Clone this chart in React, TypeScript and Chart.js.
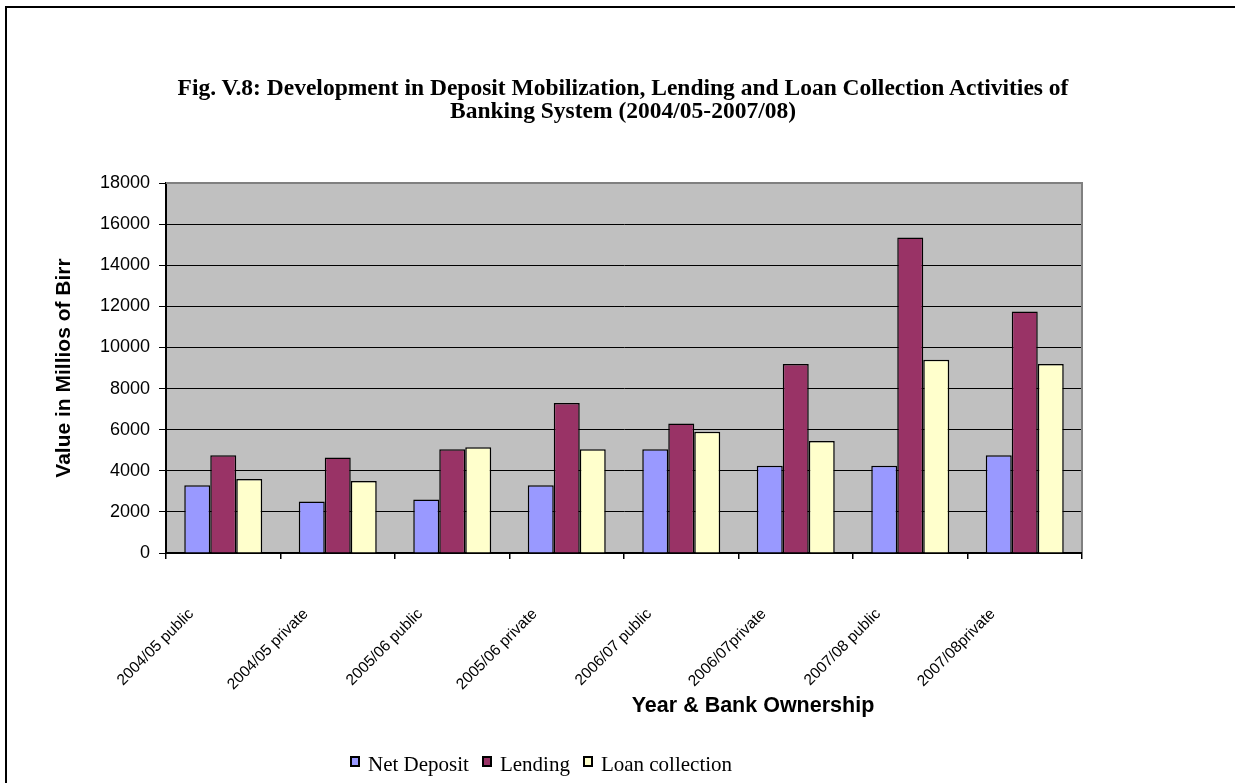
import { useEffect, useRef } from "react";
import { Chart, registerables } from "chart.js";

Chart.register(...registerables);

// Categories: fiscal year and bank ownership
const categories = [
  "2004/05 public",
  "2004/05 private",
  "2005/06 public",
  "2005/06 private",
  "2006/07 public",
  "2006/07private",
  "2007/08 public",
  "2007/08private",
];

// Values in millions of Birr
const netDeposit = [3300, 2500, 2600, 3300, 5050, 4250, 4250, 4750];
const lending = [4750, 4650, 5050, 7300, 6300, 9200, 15350, 11750];
const loanCollection = [3600, 3500, 5150, 5050, 5900, 5450, 9400, 9200];

const seriesNames = ["Net Deposit", "Lending", "Loan collection"];
const seriesColors = ["#9999FF", "#993366", "#FFFFCC"];

const yMin = 0;
const yMax = 18000;
const yStep = 2000;

const titleLines = [
  "Fig. V.8: Development in Deposit Mobilization, Lending and Loan Collection Activities of",
  "Banking System (2004/05-2007/08)",
];
const yTitle = "Value in Millios of Birr";
const xTitle = "Year & Bank Ownership";

// Grey plot background with a grey frame on the top and right edges
const plotFrame = {
  id: "plotFrame",
  beforeDraw(chart: any) {
    const { ctx, chartArea: a } = chart;
    ctx.save();
    ctx.fillStyle = "#C0C0C0";
    ctx.fillRect(a.left, a.top, a.right - a.left, a.bottom - a.top);
    ctx.restore();
  },
  beforeDatasetsDraw(chart: any) {
    const { ctx, chartArea: a } = chart;
    ctx.save();
    ctx.strokeStyle = "#808080";
    ctx.lineWidth = 2;
    ctx.beginPath();
    ctx.moveTo(a.left, a.top);
    ctx.lineTo(a.right, a.top);
    ctx.lineTo(a.right, a.bottom - 1);
    ctx.stroke();
    ctx.restore();
  },
};

export default function App() {
  const canvasRef = useRef<HTMLCanvasElement>(null);

  useEffect(() => {
    const canvas = canvasRef.current;
    if (!canvas) return;
    const values = [netDeposit, lending, loanCollection];
    const chart = new Chart(canvas, {
      type: "bar",
      data: {
        labels: categories,
        datasets: values.map((data, i) => ({
          label: seriesNames[i],
          data,
          backgroundColor: seriesColors[i],
          borderColor: "#000000",
          borderWidth: 1.5,
          categoryPercentage: 0.681,
          barPercentage: 1,
        })),
      },
      options: {
        responsive: false,
        animation: false,
        events: [],
        layout: { padding: { left: 0, top: 183, right: 153, bottom: 0 } },
        plugins: {
          legend: { display: false },
          title: { display: false },
          tooltip: { enabled: false },
        },
        scales: {
          x: {
            type: "category",
            afterFit: (s: any) => {
              s.height = 230;
            },
            grid: {
              offset: true,
              drawOnChartArea: false,
              drawTicks: true,
              tickLength: 6,
              color: "#000000",
              lineWidth: 1.5,
            },
            border: { display: true, color: "#000000", width: 2 },
            ticks: {
              autoSkip: false,
              maxRotation: 45,
              minRotation: 45,
              padding: 46,
              labelOffset: -32,
              color: "#000000",
              font: { family: "Liberation Sans", size: 15.5 },
            },
          },
          y: {
            min: yMin,
            max: yMax,
            afterFit: (s: any) => {
              s.width = 166;
            },
            grid: {
              color: (c: any) => (c.tick && c.tick.value === yMax ? "rgba(0,0,0,0)" : "#000000"),
              tickColor: "#000000",
              lineWidth: 1,
              tickLength: 7,
            },
            border: { display: true, color: "#000000", width: 2 },
            ticks: {
              stepSize: yStep,
              padding: 9,
              color: "#000000",
              font: { family: "Liberation Sans", size: 18 },
              callback: (v: any) => String(v),
            },
            title: {
              display: true,
              text: yTitle,
              color: "#000000",
              font: { family: "Liberation Sans", size: 21, weight: "bold" },
              padding: { top: 52, bottom: 0 },
            },
          },
        },
      },
      plugins: [plotFrame],
    } as any);
    return () => chart.destroy();
  }, []);

  return (
    <div
      style={{
        position: "absolute",
        left: 0,
        top: 0,
        width: 1235,
        height: 783,
        background: "#ffffff",
        overflow: "hidden",
      }}
    >
      <div
        style={{
          position: "absolute",
          left: 5,
          top: 6,
          right: -10,
          bottom: -10,
          borderLeft: "2px solid #000",
          borderTop: "2px solid #000",
        }}
      />
      <canvas
        ref={canvasRef}
        width={1235}
        height={783}
        style={{ position: "absolute", left: 0, top: 0 }}
      />
      <div
        style={{
          position: "absolute",
          left: 0,
          top: 76,
          width: 1246,
          textAlign: "center",
          fontFamily: "Liberation Serif",
          fontWeight: "bold",
          fontSize: 23.5,
          lineHeight: "23px",
          color: "#000",
          whiteSpace: "nowrap",
        }}
      >
        {titleLines.map((t) => (
          <div key={t}>{t}</div>
        ))}
      </div>
      <div
        style={{
          position: "absolute",
          left: 553,
          top: 693,
          width: 400,
          textAlign: "center",
          fontFamily: "Liberation Sans",
          fontWeight: "bold",
          fontSize: 21.5,
          lineHeight: "24px",
          color: "#000",
        }}
      >
        {xTitle}
      </div>
      <div
        style={{
          position: "absolute",
          left: 350,
          top: 752,
          display: "flex",
          alignItems: "center",
          fontFamily: "Liberation Serif",
          fontSize: 21,
          lineHeight: "24px",
          color: "#000",
          whiteSpace: "nowrap",
        }}
      >
        {seriesNames.map((name, i) => (
          <div key={name} style={{ display: "flex", alignItems: "center", marginRight: 13 }}>
            <span
              style={{
                display: "inline-block",
                width: 6,
                height: 7,
                background: seriesColors[i],
                border: "2px solid #000",
                marginRight: 8,
                marginTop: -6,
              }}
            />
            <span>{name}</span>
          </div>
        ))}
      </div>
    </div>
  );
}
